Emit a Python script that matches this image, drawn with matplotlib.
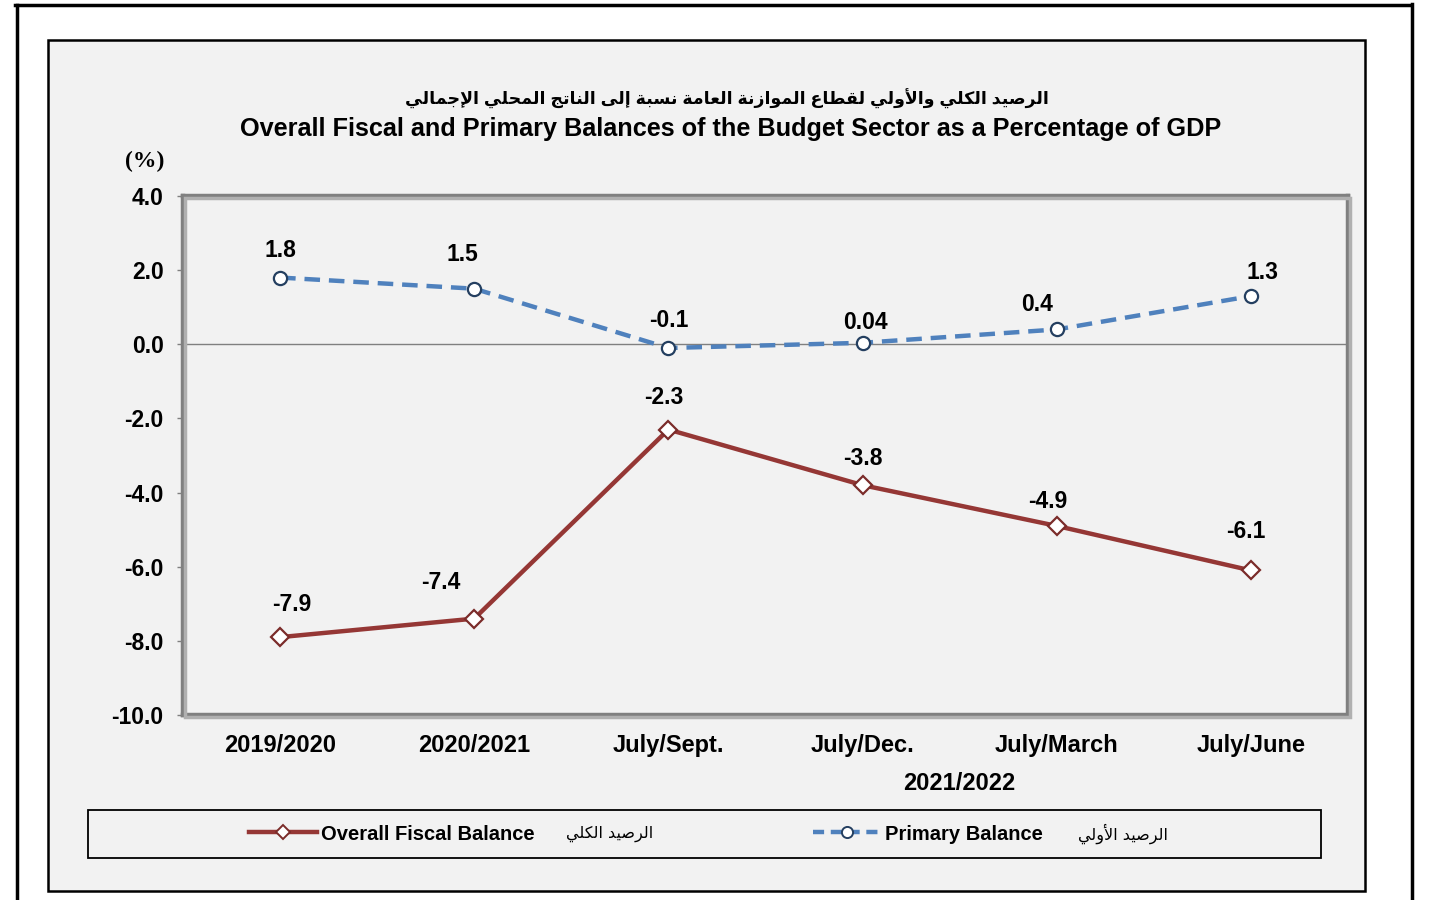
import matplotlib
matplotlib.use("Agg")
import matplotlib.pyplot as plt
from matplotlib.patches import Rectangle
from matplotlib.lines import Line2D

# ---------------- data ----------------
categories = ["2019/2020", "2020/2021", "July/Sept.", "July/Dec.", "July/March", "July/June"]
overall = [-7.9, -7.4, -2.3, -3.8, -4.9, -6.1]
primary = [1.8, 1.5, -0.1, 0.04, 0.4, 1.3]
primary_labels = ["1.8", "1.5", "-0.1", "0.04", "0.4", "1.3"]
overall_labels = ["-7.9", "-7.4", "-2.3", "-3.8", "-4.9", "-6.1"]
group_label = "2021/2022"
yticks = [-10, -8, -6, -4, -2, 0, 2, 4]

title_ar = "الرصيد الكلي والأولي لقطاع الموازنة العامة نسبة إلى الناتج المحلي الإجمالي"
title_en = "Overall Fiscal and Primary Balances of the Budget Sector as a Percentage of GDP"
leg_overall_en = "Overall Fiscal Balance"
leg_overall_ar = "الرصيد الكلي"
leg_primary_en = "Primary Balance"
leg_primary_ar = "الرصيد الأولي"

# label offsets (pixels) for the data labels (dx, dy)
overall_off = [(12, 33), (-33, 36), (-5, 32), (0, 27), (-9, 24), (-5, 39)]
primary_off = [(0, 27), (-12, 34), (0, 27), (3, 20), (-20, 25), (12, 24)]

# ---------------- simple Arabic shaping ----------------
FORMS = {
    'ا': (0xFE8D, 0xFE8E, None, None), 'أ': (0xFE83, 0xFE84, None, None),
    'إ': (0xFE87, 0xFE88, None, None), 'آ': (0xFE81, 0xFE82, None, None),
    'ب': (0xFE8F, 0xFE90, 0xFE91, 0xFE92), 'ة': (0xFE93, 0xFE94, None, None),
    'ت': (0xFE95, 0xFE96, 0xFE97, 0xFE98), 'ج': (0xFE9D, 0xFE9E, 0xFE9F, 0xFEA0),
    'ح': (0xFEA1, 0xFEA2, 0xFEA3, 0xFEA4), 'د': (0xFEA9, 0xFEAA, None, None),
    'ر': (0xFEAD, 0xFEAE, None, None), 'ز': (0xFEAF, 0xFEB0, None, None),
    'س': (0xFEB1, 0xFEB2, 0xFEB3, 0xFEB4), 'ص': (0xFEB9, 0xFEBA, 0xFEBB, 0xFEBC),
    'ط': (0xFEC1, 0xFEC2, 0xFEC3, 0xFEC4), 'ع': (0xFEC9, 0xFECA, 0xFECB, 0xFECC),
    'ق': (0xFED5, 0xFED6, 0xFED7, 0xFED8), 'ك': (0xFED9, 0xFEDA, 0xFEDB, 0xFEDC),
    'ل': (0xFEDD, 0xFEDE, 0xFEDF, 0xFEE0), 'م': (0xFEE1, 0xFEE2, 0xFEE3, 0xFEE4),
    'ن': (0xFEE5, 0xFEE6, 0xFEE7, 0xFEE8), 'و': (0xFEED, 0xFEEE, None, None),
    'ى': (0xFEEF, 0xFEF0, None, None), 'ي': (0xFEF1, 0xFEF2, 0xFEF3, 0xFEF4),
}
LAMALEF = {'آ': (0xFEF5, 0xFEF6), 'أ': (0xFEF7, 0xFEF8), 'إ': (0xFEF9, 0xFEFA), 'ا': (0xFEFB, 0xFEFC)}


def shape_ar(text):
    out = []
    chars = list(text)
    n = len(chars)
    i = 0
    while i < n:
        c = chars[i]
        if c not in FORMS:
            out.append(c)
            i += 1
            continue
        prev = chars[i - 1] if i > 0 else None
        prev_joins = prev in FORMS and FORMS[prev][2] is not None
        if c == 'ل' and i + 1 < n and chars[i + 1] in LAMALEF:
            iso, fin = LAMALEF[chars[i + 1]]
            out.append(chr(fin if prev_joins else iso))
            i += 2
            continue
        nxt = chars[i + 1] if i + 1 < n else None
        next_joins = nxt in FORMS and FORMS[c][2] is not None
        iso, fin, ini, med = FORMS[c]
        if prev_joins and next_joins:
            g = med
        elif prev_joins:
            g = fin
        elif next_joins:
            g = ini
        else:
            g = iso
        out.append(chr(g))
        i += 1
    return "".join(reversed(out))


# ---------------- figure ----------------
W, H = 1430, 900
fig = plt.figure(figsize=(W / 100, H / 100), dpi=100)
fig.patch.set_facecolor("white")
FAM = ["Liberation Sans", "DejaVu Sans"]
plt.rcParams["font.family"] = FAM


def fx(px):
    return px / W


def fy(py):
    return 1 - py / H


# outer frame lines
fig.add_artist(Line2D([fx(15), fx(1411)], [fy(5), fy(5)], color="black", lw=2.5))
fig.add_artist(Line2D([fx(16.5), fx(16.5)], [fy(5), fy(900)], color="black", lw=2.5))
fig.add_artist(Line2D([fx(1411.5), fx(1411.5)], [fy(4), fy(900)], color="black", lw=2.5))

# chart area box
fig.add_artist(Rectangle((fx(48), fy(891)), fx(1365) - fx(48), fy(40) - fy(891),
                         facecolor="#f2f2f2", edgecolor="black", lw=1.8,
                         transform=fig.transFigure, zorder=0))

# shadow of plot area
fig.add_artist(Rectangle((fx(185), fy(717)), fx(1350) - fx(185), fy(198) - fy(717),
                         facecolor="none", edgecolor="#b0b0b0", lw=2.5,
                         transform=fig.transFigure, zorder=0.5))

ax = fig.add_axes([fx(183), fy(715), fx(1348) - fx(183), fy(196) - fy(715)])
ax.set_facecolor("#f2f2f2")
x = list(range(len(categories)))

ax.axhline(0, color="#808080", lw=1.0, zorder=1)

ax.plot(x, overall, color="#953735", lw=3.2, marker="D", markersize=9.5,
        markerfacecolor="white", markeredgecolor="#7b2c2a", markeredgewidth=1.6,
        zorder=3, label="overall")
ax.plot(x, primary, color="#4f81bd", lw=3.2, ls=(0, (3.5, 2)), marker="o",
        markersize=9.5, markerfacecolor="white", markeredgecolor="#243f60",
        markeredgewidth=1.6, zorder=3, label="primary")

lab_kw = dict(ha="center", va="center", fontsize=16.5, fontweight="bold", color="black")
for xi, v, t, (dx, dy) in zip(x, overall, overall_labels, overall_off):
    ax.annotate(t, (xi, v), xytext=(dx * 0.72, dy * 0.72), textcoords="offset points", **lab_kw)
for xi, v, t, (dx, dy) in zip(x, primary, primary_labels, primary_off):
    ax.annotate(t, (xi, v), xytext=(dx * 0.72, dy * 0.72), textcoords="offset points", **lab_kw)

ax.set_xlim(-0.5, len(categories) - 0.5)
ax.set_ylim(-10, 4)
ax.set_yticks(yticks)
ax.set_yticklabels([f"{v:.1f}" for v in yticks], fontsize=16.5, fontweight="bold")
ax.set_xticks(x)
ax.set_xticklabels(categories, fontsize=17, fontweight="bold")
ax.tick_params(axis="y", length=4, width=1, color="#808080", pad=10)
ax.tick_params(axis="x", length=0, pad=14)
for s in ax.spines.values():
    s.set_color("#808080")
    s.set_linewidth(3.2)

# group label
ax.text((2 + 5) / 2, -(783 - 715) / 519, group_label, transform=ax.get_xaxis_transform(),
        ha="center", va="center", fontsize=17, fontweight="bold")

# (%) label
fig.text(fx(145), fy(161), "(%)", ha="center", va="center", fontsize=17,
         fontweight="bold", family=["Liberation Serif", "DejaVu Serif"])

# titles
fig.text(fx(727), fy(99), shape_ar(title_ar), ha="center", va="center",
         fontsize=12.5, fontweight="bold", family=FAM)
fig.text(fx(731), fy(129), title_en, ha="center", va="center",
         fontsize=18.2, fontweight="bold")

# legend box
fig.add_artist(Rectangle((fx(88), fy(858)), fx(1321) - fx(88), fy(810) - fy(858),
                         facecolor="none", edgecolor="black", lw=1.3,
                         transform=fig.transFigure, zorder=1))

h1 = Line2D([], [], color="#953735", lw=3.2, marker="D", markersize=7,
            markerfacecolor="white", markeredgecolor="#7b2c2a", markeredgewidth=1.4)
h2 = Line2D([], [], color="#4f81bd", lw=3.2, ls=(0, (2.5, 1.5)), marker="o", markersize=8,
            markerfacecolor="white", markeredgecolor="#243f60", markeredgewidth=1.4)
leg = fig.legend([h1, h2], [leg_overall_en, leg_primary_en], loc="center",
                 bbox_to_anchor=(fx(646), fy(834)),
                 ncol=2, frameon=False, handlelength=3.4, handletextpad=0.2,
                 columnspacing=13.8, prop={"family": FAM, "size": 14.5, "weight": "bold"})

fig.text(fx(610), fy(834), shape_ar(leg_overall_ar), ha="center", va="center",
         fontsize=11.5, family=["DejaVu Sans"])
fig.text(fx(1123), fy(834), shape_ar(leg_primary_ar), ha="center", va="center",
         fontsize=11.5, family=["DejaVu Sans"])

fig.savefig("out.png", dpi=100, facecolor=fig.get_facecolor())
